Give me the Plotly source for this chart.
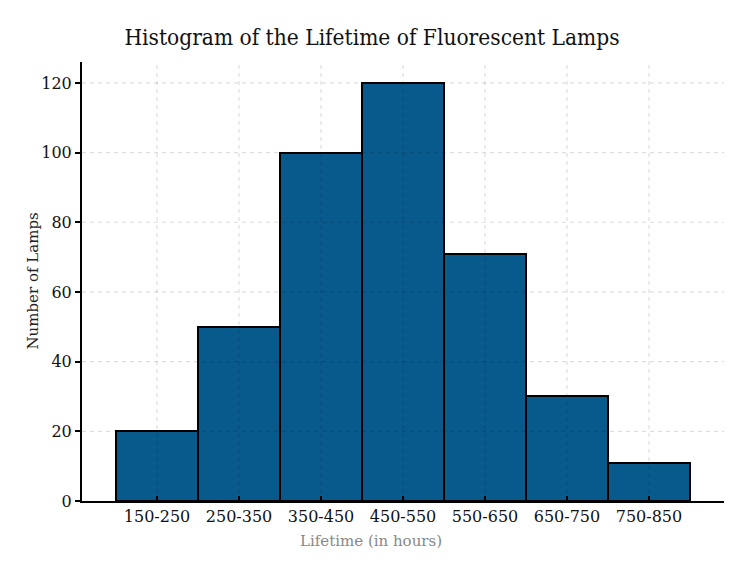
import plotly.graph_objects as go

categories = ["150-250", "250-350", "350-450", "450-550", "550-650", "650-750", "750-850"]
counts = [20, 50, 100, 120, 71, 30, 11]
y_ticks = [0, 20, 40, 60, 80, 100, 120]

W, H = 728, 556  # page adds an 8px body margin
L, R, T, B = 74, 12, 54, 63

fig = go.Figure()
fig.add_trace(go.Bar(
    x=list(range(len(categories))), y=counts,
    width=1.0,
    marker=dict(color="#08598C", line=dict(color="black", width=2)),
    showlegend=False,
))

grid_col = "rgba(0,0,0,0.13)"
shapes = []
for i in range(len(categories)):
    shapes.append(dict(type="line", xref="x", yref="paper", x0=i, x1=i, y0=0, y1=1,
                       line=dict(color=grid_col, width=1.2, dash="4px,4px"), layer="above"))
for v in y_ticks[1:]:
    shapes.append(dict(type="line", xref="paper", yref="y", x0=0, x1=1, y0=v, y1=v,
                       line=dict(color=grid_col, width=1.2, dash="4px,4px"), layer="above"))

serif = "DejaVu Serif"
pw = W - L - R
fig.update_layout(
    width=W, height=H,
    paper_bgcolor="white", plot_bgcolor="white",
    margin=dict(l=L, r=R, t=T, b=B),
    bargap=0,
    shapes=shapes,
    title=dict(text="Histogram of the Lifetime of Fluorescent Lamps",
               x=(364 - 0) / W, xref="container", xanchor="center",
               y=1 - 29 / H, yref="container", yanchor="middle",
               font=dict(family="DejaVu Serif Condensed, " + serif, size=22.5, color="#111")),
    font=dict(family=serif, color="#111"),
    annotations=[
        dict(text="Lifetime (in hours)", xref="paper", yref="paper",
             x=(363 - L) / pw, y=0, yshift=-40, xanchor="center", yanchor="middle",
             showarrow=False, font=dict(family=serif, size=15, color="#888")),
        dict(text="Number of Lamps", xref="paper", yref="paper",
             x=0, xshift=-50, y=0.5, textangle=-90, xanchor="center", yanchor="middle",
             showarrow=False, font=dict(family=serif, size=15, color="#222")),
    ],
)
fig.update_xaxes(
    range=[-0.915, 6.915], automargin=False,
    tickmode="array", tickvals=list(range(len(categories))), ticktext=categories,
    ticks="inside", ticklen=5, tickwidth=2, tickcolor="black",
    showline=True, linecolor="black", linewidth=2,
    showgrid=False, zeroline=False,
    tickfont=dict(family=serif, size=16, color="#111"),
)
fig.update_yaxes(
    range=[0, 126], automargin=False,
    tickmode="array", tickvals=y_ticks,
    ticks="outside", ticklen=5, tickwidth=2, tickcolor="black",
    showline=True, linecolor="black", linewidth=2,
    showgrid=False, zeroline=False,
    tickfont=dict(family=serif, size=16, color="#111"),
)

fig.write_html("out.html")
